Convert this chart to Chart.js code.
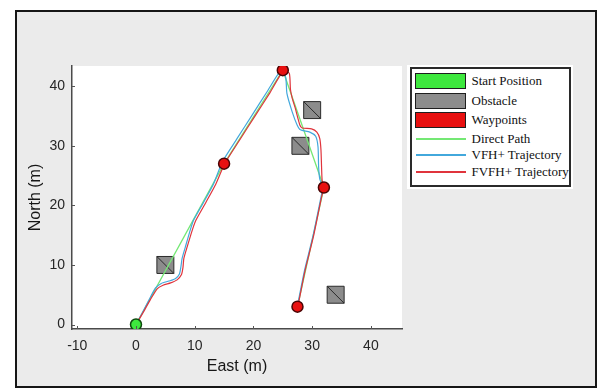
<!DOCTYPE html>
<html>
<head>
<meta charset="utf-8">
<script src="https://cdn.jsdelivr.net/npm/chart.js@4.4.0/dist/chart.umd.min.js"></script>
<style>
  html, body { margin: 0; padding: 0; background: #ffffff; }
  #wrap { position: relative; width: 598px; height: 389px; overflow: hidden; }
  canvas { position: absolute; left: 0; top: 0; }
  .lg { position: absolute; font-family: "Liberation Serif", "Times New Roman", serif; font-size: 13px; color: #111; line-height: 16px; white-space: nowrap; }
  .patch { position: absolute; box-sizing: border-box; border: 1.5px solid #1e1e1e; }
  .ln { position: absolute; height: 2px; }
</style>
</head>
<body>
<div id="wrap">
  <canvas id="c" width="598" height="389"></canvas>
  <div id="legend"></div>
</div>
<script>
// ---- data ----
const xTicks = [-10, 0, 10, 20, 30, 40];
const yTicks = [0, 10, 20, 30, 40];

const startX = [0];
const startY = [0];

const waypointX = [15, 25, 32, 27.5];
const waypointY = [27, 42.7, 23, 3];

const obstacleX = [5, 30, 28, 34];
const obstacleY = [10, 36, 30, 5];

const directX = [0, 15, 25, 32, 27.5];
const directY = [0, 27, 42.7, 23, 3];

const vfhX = [0, 1.1, 2.2, 3.3, 4.3, 5.6, 6.7, 7.4, 7.65, 7.85, 8.4, 9.25, 9.8, 11.5, 13.2, 14.7, 17.2, 19.8, 22.4, 24.8, 25.5, 25.7, 26.6, 27.4, 28.0, 29.6, 30.6, 31.0, 31.1, 31.3, 31.8, 31.5, 30.1, 28.7, 27.8, 27.5];
const vfhY = [0, 2, 4.1, 6.1, 6.9, 7.3, 7.7, 8.5, 9.7, 11.1, 13.0, 15.9, 17.5, 20.5, 23.6, 27.3, 31.2, 35.2, 39.2, 42.8, 41.5, 38.8, 35.7, 33.6, 32.7, 32.3, 31.6, 29.8, 26.5, 24.4, 23.1, 21.4, 14.7, 9.1, 4.7, 3.2];

const fvfhX = [0, 1.2, 2.4, 3.6, 4.6, 5.9, 7.0, 7.75, 8.0, 8.15, 8.7, 9.6, 10.2, 11.9, 13.6, 15.1, 17.6, 20.2, 22.8, 25.1, 26.1, 26.3, 26.6, 27.1, 27.9, 28.3, 29.9, 30.8, 31.3, 31.5, 31.6, 31.7, 32.0, 31.6, 30.2, 28.8, 27.9, 27.6];
const fvfhY = [0, 2, 4.1, 6.0, 6.6, 7.0, 7.5, 8.4, 9.6, 11.1, 13.0, 15.9, 17.5, 20.5, 23.6, 27, 30.9, 34.9, 38.9, 42.6, 42.2, 39.5, 38.0, 36.4, 33.5, 33.0, 32.85, 32.3, 31.2, 29.3, 26.5, 24.2, 23.1, 21.4, 14.7, 9.1, 4.7, 3.2];

const legendLabels = ["Start Position", "Obstacle", "Waypoints", "Direct Path", "VFH+ Trajectory", "FVFH+ Trajectory"];

// ---- styles ----
const C_START = '#3ee83e', C_OBS = '#8c8c8c', C_WP = '#e81010';
const C_DIRECT = '#74e874', C_VFH = '#42a8dc', C_FVFH = '#e0343c';

const pts = (xs, ys) => xs.map((x, i) => ({ x: x, y: ys[i] }));

const bgPlugin = {
  id: 'bg',
  beforeDraw(chart) {
    const ctx = chart.ctx, a = chart.chartArea;
    ctx.save();
    ctx.fillStyle = '#ffffff';
    ctx.fillRect(0, 0, chart.width, chart.height);
    ctx.fillStyle = '#ebebeb';
    ctx.fillRect(15, 10, 582, 377);
    ctx.strokeStyle = '#161616';
    ctx.lineWidth = 2;
    ctx.strokeRect(16, 11, 580, 376);
    ctx.fillStyle = '#ffffff';
    ctx.fillRect(a.left, a.top, a.right - a.left, a.bottom - a.top);
    ctx.restore();
  },
  afterDraw(chart) {
    const ctx = chart.ctx, a = chart.chartArea;
    const xs = chart.scales.x, ys = chart.scales.y;
    ctx.save();
    ctx.strokeStyle = '#555';
    ctx.lineWidth = 1;
    ctx.beginPath();
    xTicks.forEach(v => { const p = Math.round(xs.getPixelForValue(v)) + 0.5; ctx.moveTo(p, a.bottom); ctx.lineTo(p, a.bottom - 3); });
    yTicks.forEach(v => { const p = Math.round(ys.getPixelForValue(v)) + 0.5; ctx.moveTo(a.left, p); ctx.lineTo(a.left + 3, p); });
    ctx.stroke();
    ctx.restore();
  }
};

const tickFont = { family: '"Liberation Sans", Arial, sans-serif', size: 14 };
const titleFont = { family: '"Liberation Sans", Arial, sans-serif', size: 16 };

new Chart(document.getElementById('c'), {
  type: 'scatter',
  data: {
    datasets: [
      { label: 'Obstacle', data: pts(obstacleX, obstacleY), pointStyle: 'rect', pointRadius: 12, backgroundColor: C_OBS, borderColor: '#2a2a2a', borderWidth: 1, order: 10 },
      { label: 'ObstacleDiag', data: pts(obstacleX, obstacleY), pointStyle: 'line', rotation: 45, pointRadius: 12, borderColor: '#2a2a2a', borderWidth: 1, order: 9 },
      { label: 'Direct Path', data: pts(directX, directY), showLine: true, pointRadius: 0, borderColor: C_DIRECT, borderWidth: 1.3, tension: 0, order: 8 },
      { label: 'VFH+ Trajectory', data: pts(vfhX, vfhY), showLine: true, pointRadius: 0, borderColor: C_VFH, borderWidth: 1.2, tension: 0.2, order: 7 },
      { label: 'FVFH+ Trajectory', data: pts(fvfhX, fvfhY), showLine: true, pointRadius: 0, borderColor: C_FVFH, borderWidth: 1.2, tension: 0.2, order: 6 },
      { label: 'Waypoints', data: pts(waypointX, waypointY), pointStyle: 'circle', pointRadius: 5.5, backgroundColor: C_WP, borderColor: '#4a0505', borderWidth: 1.5, order: 2 },
      { label: 'Start Position', data: pts(startX, startY), pointStyle: 'circle', pointRadius: 5.5, backgroundColor: C_START, borderColor: '#0d4a0d', borderWidth: 1.5, order: 1 }
    ]
  },
  options: {
    responsive: false,
    animation: false,
    devicePixelRatio: 1,
    layout: { padding: { left: 0, top: 66, right: 196, bottom: 0 } },
    plugins: { legend: { display: false }, tooltip: { enabled: false } },
    scales: {
      x: {
        type: 'linear', min: -10.9, max: 45.3,
        afterBuildTicks: s => { s.ticks = xTicks.map(v => ({ value: v })); },
        afterFit: s => { s.height = 60; },
        grid: { display: false, drawTicks: false },
        border: { display: true, color: '#4a4a4a', width: 1.5 },
        ticks: { color: '#262626', font: tickFont, padding: 8.5, maxRotation: 0, autoSkip: false },
        title: { display: true, text: 'East (m)', color: '#161616', font: titleFont, padding: { top: 0, bottom: 12.7 } }
      },
      y: {
        type: 'linear', min: -0.75, max: 43.4,
        afterBuildTicks: s => { s.ticks = yTicks.map(v => ({ value: v })); },
        afterFit: s => { s.width = 72; },
        grid: { display: false, drawTicks: false },
        border: { display: true, color: '#4a4a4a', width: 1.5 },
        ticks: { color: '#262626', font: tickFont, padding: 7, autoSkip: false },
        title: { display: true, text: 'North (m)', color: '#161616', font: titleFont, padding: { top: 26.4, bottom: 0 } }
      }
    }
  },
  plugins: [bgPlugin]
});

// ---- legend (HTML) ----
(function () {
  const lg = document.getElementById('legend');
  const add = (html) => { lg.insertAdjacentHTML('beforeend', html); };
  add('<div style="position:absolute;left:407px;top:65px;width:166px;height:124px;background:#fff"></div>');
  add('<div style="position:absolute;left:409.5px;top:67.3px;width:161px;height:120px;box-sizing:border-box;border:2px solid #2a2a2a;background:#fff"></div>');
  const rowY = [81.3, 100.5, 119.7, 139.3, 155, 171.7];
  const kinds = [['patch', C_START], ['patch', C_OBS], ['patch', C_WP], ['line', C_DIRECT], ['line', C_VFH], ['line', C_FVFH]];
  legendLabels.forEach((t, i) => {
    const cy = rowY[i];
    const k = kinds[i];
    if (k[0] === 'patch') {
      add('<div class="patch" style="left:415px;top:' + (cy - 8) + 'px;width:51px;height:16px;background:' + k[1] + '"></div>');
    } else {
      add('<div class="ln" style="left:416px;top:' + Math.round(cy - 1) + 'px;width:50px;background:' + k[1] + '"></div>');
    }
    add('<div class="lg" style="left:471.5px;top:' + (cy - 8) + 'px">' + t + '</div>');
  });
})();
</script>
</body>
</html>
